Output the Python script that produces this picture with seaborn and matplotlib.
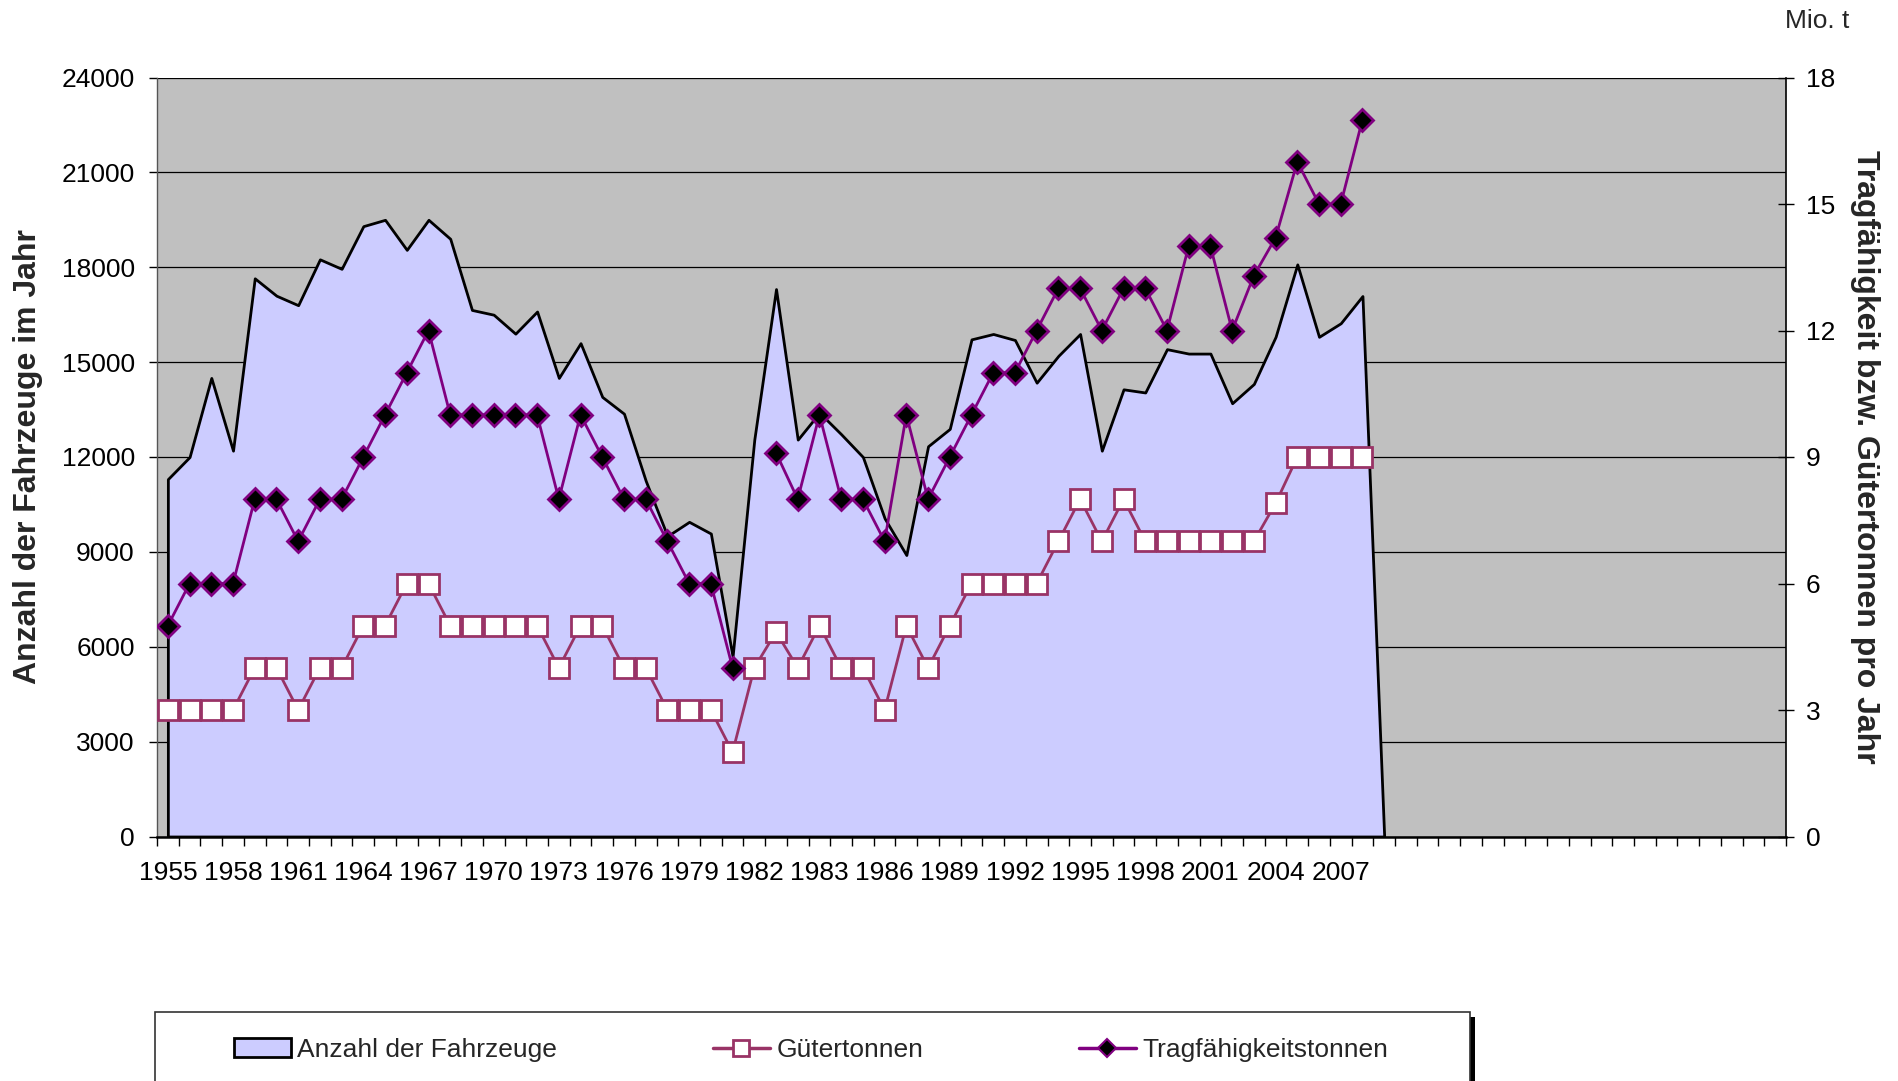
import numpy as np
import pandas as pd
import matplotlib
matplotlib.use("Agg")
import matplotlib.pyplot as plt
from matplotlib.patches import Patch, Rectangle
from matplotlib.lines import Line2D
import seaborn as sns

# ---------------- data ----------------
kategorien = ([str(y) for y in range(1955, 1983)] + ["1982", "1982"] +
              [str(y) for y in range(1983, 2009)])          # 56 data categories
n_kategorien = 75                                            # incl. empty categories

anzahl = [11300, 12000, 14500, 12200, 17650, 17100, 16800, 18250, 17950, 19300,
          19500, 18550, 19500, 18900, 16650, 16500, 15900, 16600, 14500, 15600,
          13900, 13370, 11250, 9500, 9950, 9580, 5690, 12550, 17310, 12550,
          13400, 12720, 12000, 10060, 8900, 12340, 12890, 15720, 15890, 15700,
          14350, 15200, 15890, 12200, 14140, 14040, 15410, 15270, 15270, 13700,
          14310, 15800, 18090, 15800, 16230, 17090, 0]

guetertonnen = [3, 3, 3, 3, 4, 4, 3, 4, 4, 5,
                5, 6, 6, 5, 5, 5, 5, 5, 4, 5,
                5, 4, 4, 3, 3, 3, 2, 4, 4.85, 4,
                5, 4, 4, 3, 5, 4, 5, 6, 6, 6,
                6, 7, 8, 7, 8, 7, 7, 7, 7, 7,
                7, 7.9, 9, 9, 9, 9]

tragfaehigkeit = [5, 6, 6, 6, 8, 8, 7, 8, 8, 9,
                  10, 11, 12, 10, 10, 10, 10, 10, 8, 10,
                  9, 8, 8, 7, 6, 6, 4, np.nan, 9.1, 8,
                  10, 8, 8, 7, 10, 8, 9, 10, 11, 11,
                  12, 13, 13, 12, 13, 13, 12, 14, 14, 12,
                  13.3, 14.2, 16, 15, 15, 17]

y_left_ticks = list(range(0, 24001, 3000))
y_right_ticks = list(range(0, 19, 3))

# ---------------- style ----------------
sns.set_style("white")
plt.rcParams["font.family"] = ["Liberation Sans", "DejaVu Sans"]

C_BG = "#C0C0C0"
C_AREA = "#CCCCFF"
C_TRAG = "#800080"
C_GUET = "#993366"
TICK_FS = 19

W, H = 1899, 1081
fig = plt.figure(figsize=(W / 100, H / 100), dpi=100)
fig.patch.set_facecolor("white")

ax = fig.add_axes([157 / W, 1 - 836.5 / H, 1629 / W, 759 / H])
ax.set_facecolor(C_BG)
ax.set_axisbelow(True)

# area: Anzahl der Fahrzeuge
x_anz = np.arange(len(anzahl))
ax.fill_between(x_anz, anzahl, 0, facecolor=C_AREA, edgecolor="black",
                linewidth=2.0, zorder=2)

ax.set_xlim(-0.5, n_kategorien - 0.5)
ax.set_ylim(0, 24000)
ax.set_yticks(y_left_ticks)
ax.set_yticklabels([str(v) for v in y_left_ticks])
ax.grid(axis="y", color="black", linewidth=0.9)
ax.grid(axis="x", visible=False)

# x ticks: labels every 3rd category, tick marks at category borders
lab_pos = list(range(0, len(kategorien) - 1, 3))
ax.set_xticks(lab_pos)
ax.set_xticklabels([kategorien[i] for i in lab_pos])
ax.set_xticks(np.arange(-0.5, n_kategorien, 1.0), minor=True)
ax.tick_params(axis="x", which="major", length=0, pad=18, labelsize=TICK_FS,
               colors="black")
ax.tick_params(axis="x", which="minor", length=6.5, width=1.0, direction="out",
               color="black", bottom=True)
ax.tick_params(axis="y", which="major", length=6, width=1.0, direction="out",
               pad=10, labelsize=TICK_FS, colors="black", left=True)

for s in ["top", "right"]:
    ax.spines[s].set_visible(False)
ax.spines["left"].set_color("#555555")
ax.spines["left"].set_linewidth(1.0)
ax.spines["bottom"].set_color("black")
ax.spines["bottom"].set_linewidth(1.8)
ax.spines["bottom"].set_zorder(5)

ax.set_ylabel("Anzahl der Fahrzeuge im Jahr", fontsize=23, fontweight="bold",
              rotation=90, va="center", ha="center")
ax.yaxis.set_label_coords((28.5 - 157) / 1629, 0.5)

# ---------------- right axis: lines ----------------
ax2 = ax.twinx()
ax2.set_ylim(0, 18)
ax2.set_xlim(-0.5, n_kategorien - 0.5)

df_g = pd.DataFrame({"x": np.arange(len(guetertonnen)), "y": guetertonnen})
sns.lineplot(data=df_g, x="x", y="y", ax=ax2, color=C_GUET, linewidth=2.0,
             marker="s", markersize=15, markerfacecolor="white",
             markeredgecolor=C_GUET, markeredgewidth=2.0, legend=False,
             estimator=None)

trag_arr = np.array(tragfaehigkeit, dtype=float)
df_t = pd.DataFrame({"x": np.arange(len(trag_arr)), "y": trag_arr,
                     "seg": np.cumsum(np.isnan(trag_arr))})
df_t = df_t.dropna()
sns.lineplot(data=df_t, x="x", y="y", units="seg", estimator=None, ax=ax2,
             color=C_TRAG, linewidth=2.0, marker="D", markersize=11,
             markerfacecolor="black", markeredgecolor=C_TRAG,
             markeredgewidth=2.0, legend=False)

ax2.set_yticks(y_right_ticks)
ax2.set_yticklabels([str(v) for v in y_right_ticks])
ax2.tick_params(axis="y", which="major", length=11.5, width=1.0,
                direction="inout", pad=8.6, labelsize=TICK_FS, colors="black",
                right=True)
ax2.grid(False)
for s in ["top", "left", "bottom"]:
    ax2.spines[s].set_visible(False)
ax2.spines["right"].set_color("black")
ax2.spines["right"].set_linewidth(1.2)
ax2.set_xlabel("")
ax2.set_ylabel("Tragfähigkeit bzw. Gütertonnen pro Jahr", fontsize=23,
               fontweight="bold", rotation=270, va="center", ha="center")
ax2.yaxis.set_label_coords((1865 - 157) / 1629, 0.5)
ax.set_xlabel("")

fig.text(1817 / W, 1 - 21 / H, "Mio. t", fontsize=19, ha="center",
         va="center")

# ---------------- legend ----------------
shadow = Rectangle((159 / W, -0.2), (1475 - 159) / W,
                   0.2 + (1 - 1017 / H), transform=fig.transFigure,
                   facecolor="black", edgecolor="none", zorder=9)
frame = Rectangle((155 / W, -0.2), (1470 - 155) / W,
                  0.2 + (1 - 1012 / H), transform=fig.transFigure,
                  facecolor="white", edgecolor="#333333", linewidth=1.2,
                  zorder=10)
fig.add_artist(shadow)
fig.add_artist(frame)

handles = [
    Patch(facecolor=C_AREA, edgecolor="black", linewidth=2.0,
          label="Anzahl der Fahrzeuge"),
    Line2D([], [], color=C_GUET, linewidth=2.5, marker="s", markersize=12,
           markerfacecolor="white", markeredgecolor=C_GUET,
           markeredgewidth=2.0, label="Gütertonnen"),
    Line2D([], [], color=C_TRAG, linewidth=2.5, marker="D", markersize=9,
           markerfacecolor="black", markeredgecolor=C_TRAG,
           markeredgewidth=1.5, label="Tragfähigkeitstonnen"),
]
leg = fig.legend(handles=handles, loc="center left",
                 bbox_to_anchor=(234 / W, 1 - 1050 / H), ncol=3,
                 frameon=False, fontsize=19, handlelength=2.15,
                 handleheight=0.72, handletextpad=0.25, columnspacing=5.9,
                 borderpad=0, borderaxespad=0)
leg.set_zorder(11)

fig.savefig("out.png", dpi=100)
